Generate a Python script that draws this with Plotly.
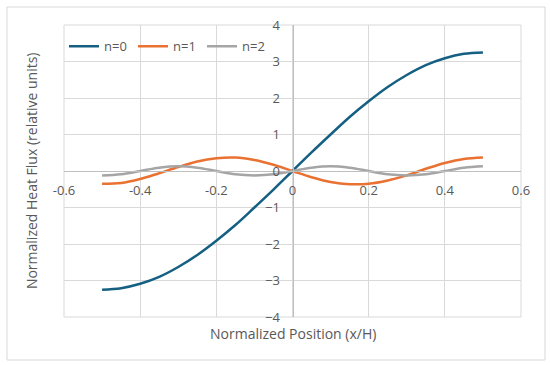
import plotly.graph_objects as go

x_pos = [-0.5, -0.45, -0.4, -0.35, -0.3, -0.25, -0.2, -0.15, -0.1, -0.05, 0.0,
         0.05, 0.1, 0.15, 0.2, 0.25, 0.3, 0.35, 0.4, 0.45, 0.5]
n0 = [-3.25, -3.21, -3.09, -2.90, -2.63, -2.30, -1.91, -1.48, -1.00, -0.51, 0.0,
      0.51, 1.00, 1.48, 1.91, 2.30, 2.63, 2.90, 3.09, 3.21, 3.25]
n1 = [-0.35, -0.33, -0.22, -0.06, 0.11, 0.26, 0.35, 0.37, 0.30, 0.17, 0.0,
      -0.17, -0.30, -0.36, -0.35, -0.26, -0.12, 0.06, 0.22, 0.33, 0.37]
n2 = [-0.12, -0.09, 0.0, 0.09, 0.13, 0.09, 0.0, -0.09, -0.12, -0.09, 0.0,
      0.09, 0.13, 0.09, 0.0, -0.09, -0.12, -0.09, 0.0, 0.09, 0.13]

series = [("n=0", n0, "#156082"), ("n=1", n1, "#E97132"), ("n=2", n2, "#A5A5A5")]
x_ticks = [-0.6, -0.4, -0.2, 0, 0.2, 0.4, 0.6]
x_tick_text = ["-0.6", "-0.4", "-0.2", "0", "0.2", "0.4", "0.6"]
y_ticks = [-4, -3, -2, -1, 0, 1, 2, 3, 4]

FONT = "Open Sans"
TXT = "#595959"

fig = go.Figure()
for name, vals, col in series:
    fig.add_trace(go.Scatter(x=x_pos, y=vals, name=name, mode="lines",
                             line=dict(color=col, width=2.5, shape="spline", smoothing=1.0)))

fig.update_layout(
    width=550, height=365,
    margin=dict(l=64, r=29, t=25, b=48),
    paper_bgcolor="white", plot_bgcolor="white",
    font=dict(family=FONT, size=13, color=TXT),
    showlegend=True,
    legend=dict(orientation="h", x=0.0, y=0.978, xanchor="left", yanchor="top",
                bgcolor="rgba(0,0,0,0)", font=dict(size=13, color=TXT),
                itemwidth=30, tracegroupgap=0, entrywidth=24),
    xaxis=dict(range=[-0.6, 0.6], tickvals=x_ticks, ticktext=x_tick_text,
               showgrid=True, gridcolor="#D9D9D9", gridwidth=1,
               zeroline=False, showline=True, linecolor="#BFBFBF", linewidth=1,
               anchor="free", position=0.5, ticks="", ticklabelstandoff=7,
               tickfont=dict(size=13, color=TXT),
               domain=[0, 1], fixedrange=True),
    yaxis=dict(range=[-4, 4], tickvals=y_ticks,
               showgrid=True, gridcolor="#D9D9D9", gridwidth=1,
               zeroline=False, showline=True, linecolor="#BFBFBF", linewidth=1,
               anchor="free", position=0.5, ticks="", ticklabelstandoff=10,
               tickfont=dict(size=13, color=TXT),
               domain=[0, 1], fixedrange=True),
    shapes=[
        dict(type="rect", xref="paper", yref="paper", x0=0, x1=1, y0=0, y1=1,
             line=dict(color="#D9D9D9", width=1), layer="below"),
        dict(type="rect", xref="paper", yref="paper", x0=-0.1247, x1=1.0525,
             y0=-0.1473, y1=1.0616, line=dict(color="#D9D9D9", width=1), layer="below"),
    ],
    annotations=[
        dict(text="Normalized Position (x/H)", xref="paper", yref="paper",
             x=0.5, y=-0.058, xanchor="center", yanchor="middle", showarrow=False,
             font=dict(size=14, color=TXT)),
        dict(text="Normalized Heat Flux (relative units)", xref="paper", yref="paper",
             x=-0.072, y=0.5, xanchor="center", yanchor="middle", showarrow=False,
             textangle=-90, font=dict(size=14, color=TXT)),
    ],
)

fig.write_html("out.html", config={"displayModeBar": False},
               post_script="document.body.style.margin='0';document.body.style.overflow='hidden';")
